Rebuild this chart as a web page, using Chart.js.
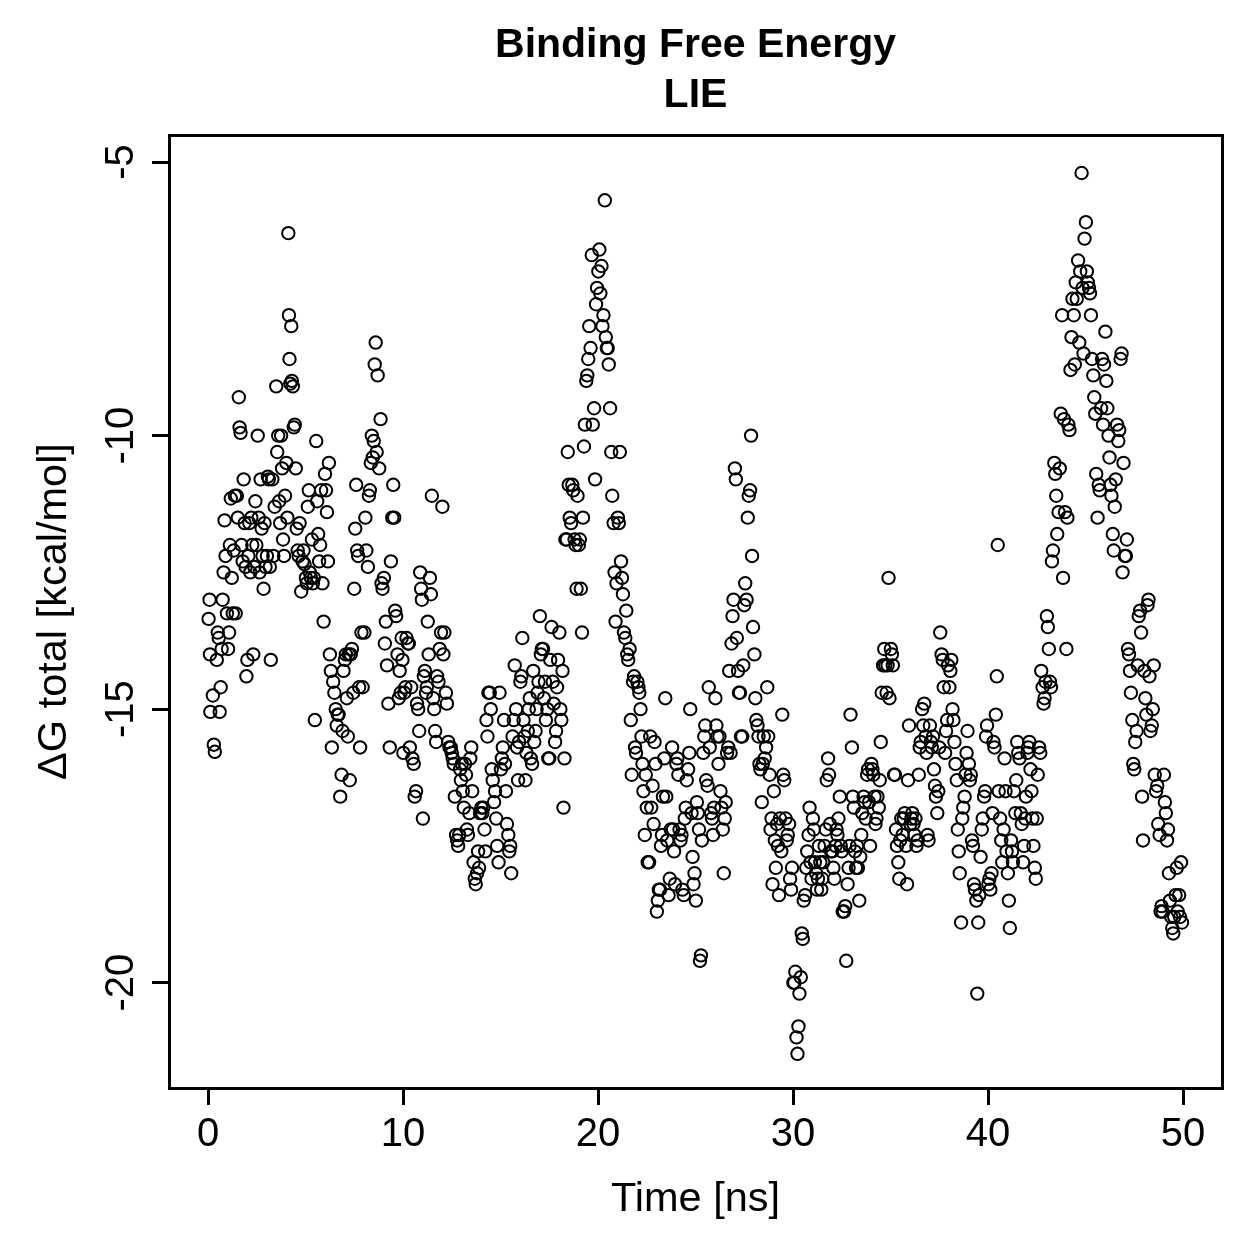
<!DOCTYPE html>
<html><head><meta charset="utf-8">
<script src="https://cdn.jsdelivr.net/npm/chart.js@4"></script>
<style>html,body{margin:0;padding:0;background:#fff}#wrap{width:1259px;height:1259px}</style>
</head><body><div id="wrap"><canvas id="c" width="1259" height="1259"></canvas></div>
<script>
const titleLines = ['Binding Free Energy', 'LIE'];
const xTitle = 'Time [ns]';
const yTitle = 'ΔG total [kcal/mol]';
const xTicks = [0, 10, 20, 30, 40, 50];
const yTicks = [-20, -15, -10, -5];

const seg0to10 = [
[0.03,-13.35],[0.08,-13.0],[0.1,-14.0],[0.12,-15.05],[0.25,-14.75],[0.3,-15.65],[0.35,-15.78],[0.45,-14.1],[0.5,-13.6],[0.55,-13.7],[0.6,-15.05],[0.65,-14.6],[0.7,-13.9],[0.75,-13.0],[0.8,-12.5],[0.85,-11.55],[0.9,-12.2],[0.97,-13.25],
[1.03,-13.9],[1.08,-13.6],[1.12,-12.0],[1.17,-11.15],[1.22,-12.6],[1.27,-13.25],[1.32,-12.1],[1.38,-11.1],[1.42,-13.25],[1.48,-11.1],[1.53,-11.5],[1.58,-9.3],[1.62,-9.85],[1.67,-9.95],[1.72,-12.0],[1.78,-12.3],[1.83,-10.8],[1.88,-11.6],[1.93,-12.4],[1.97,-14.4],
[2.02,-14.1],[2.07,-12.2],[2.12,-11.6],[2.17,-12.5],[2.22,-11.5],[2.27,-12.0],[2.32,-14.0],[2.38,-12.4],[2.43,-11.2],[2.48,-12.0],[2.55,-10.0],[2.6,-11.5],[2.65,-12.5],[2.7,-10.8],[2.75,-11.7],[2.8,-12.2],[2.85,-12.8],[2.9,-11.6],[2.95,-12.4],
[3.02,-12.2],[3.07,-10.75],[3.12,-10.8],[3.17,-12.4],[3.22,-14.1],[3.3,-10.8],[3.35,-12.2],[3.42,-11.3],[3.5,-9.1],[3.55,-10.3],[3.6,-10.0],[3.65,-11.2],[3.7,-11.6],[3.75,-10.0],[3.8,-10.6],[3.85,-11.9],[3.9,-12.2],[3.95,-11.1],
[4.02,-10.5],[4.07,-11.5],[4.12,-6.3],[4.15,-7.8],[4.18,-8.6],[4.22,-9.05],[4.27,-8.0],[4.3,-9.0],[4.35,-9.1],[4.4,-9.85],[4.45,-9.8],[4.5,-10.6],[4.55,-11.7],[4.6,-12.1],[4.65,-12.2],[4.7,-11.6],[4.78,-12.85],[4.85,-12.3],[4.9,-12.1],[4.95,-12.35],
[5.02,-12.6],[5.07,-12.7],[5.12,-11.3],[5.17,-11.0],[5.22,-12.5],[5.28,-12.6],[5.33,-11.9],[5.38,-12.7],[5.43,-12.6],[5.48,-15.2],[5.55,-10.1],[5.6,-11.2],[5.65,-11.8],[5.7,-12.3],[5.75,-12.0],[5.8,-11.0],[5.87,-12.7],[5.93,-13.4],
[6.0,-10.7],[6.05,-11.0],[6.1,-11.4],[6.15,-12.3],[6.2,-10.5],[6.25,-14.0],[6.3,-14.3],[6.35,-15.7],[6.42,-14.5],[6.48,-14.7],[6.55,-15.0],[6.6,-15.3],[6.65,-15.1],[6.7,-15.1],[6.78,-16.6],[6.85,-16.2],[6.9,-15.4],[6.95,-14.3],
[7.02,-14.1],[7.07,-14.0],[7.12,-14.8],[7.17,-15.5],[7.22,-14.0],[7.27,-16.3],[7.32,-14.0],[7.38,-13.9],[7.45,-14.7],[7.5,-12.8],[7.55,-11.7],[7.6,-10.9],[7.65,-12.1],[7.7,-12.2],[7.75,-14.6],[7.8,-15.7],[7.87,-13.6],[7.93,-14.6],
[8.02,-13.6],[8.07,-11.5],[8.12,-12.1],[8.2,-12.4],[8.25,-11.1],[8.3,-11.0],[8.35,-10.5],[8.4,-10.0],[8.45,-10.4],[8.5,-10.1],[8.55,-8.7],[8.6,-8.3],[8.65,-10.3],[8.7,-8.9],[8.78,-10.6],[8.85,-9.7],[8.9,-12.7],[8.95,-12.8],
[9.02,-12.6],[9.07,-13.8],[9.12,-13.4],[9.18,-14.2],[9.25,-14.9],[9.32,-15.7],[9.38,-12.3],[9.45,-11.5],[9.5,-10.9],[9.55,-11.5],[9.6,-13.2],[9.65,-13.3],[9.72,-14.0],[9.78,-14.8],[9.83,-14.3],[9.88,-14.7],[9.93,-13.7],[9.97,-14.1]
];
const seg10to20 = [
[10.02,-15.8],[10.07,-14.7],[10.12,-14.6],[10.18,-13.7],[10.25,-13.8],[10.3,-13.8],[10.35,-15.7],[10.42,-14.6],[10.48,-15.9],[10.55,-16.0],[10.6,-16.6],[10.67,-16.5],[10.72,-14.9],[10.78,-15.0],[10.83,-15.4],[10.88,-12.5],[10.93,-12.8],[10.97,-13.0],
[11.02,-17.0],[11.07,-14.4],[11.12,-14.3],[11.18,-14.7],[11.22,-14.6],[11.27,-13.4],[11.32,-14.0],[11.38,-12.6],[11.43,-12.9],[11.48,-11.1],[11.55,-14.8],[11.6,-15.0],[11.65,-15.4],[11.7,-15.6],[11.75,-14.4],[11.82,-14.5],[11.88,-13.9],[11.95,-13.6],
[12.02,-11.3],[12.07,-14.0],[12.12,-13.6],[12.2,-14.7],[12.25,-14.9],[12.32,-15.6],[12.38,-15.7],[12.45,-15.7],[12.5,-15.8],[12.55,-15.9],[12.6,-16.0],[12.66,-16.6],[12.72,-17.3],[12.78,-17.4],[12.83,-17.5],[12.88,-17.3],[12.93,-16.1],[12.97,-16.3],
[13.02,-16.0],[13.07,-16.5],[13.12,-16.8],[13.18,-16.0],[13.23,-16.2],[13.28,-17.2],[13.33,-17.3],[13.4,-16.9],[13.45,-15.9],[13.5,-15.7],[13.55,-16.5],[13.62,-17.8],[13.68,-18.1],[13.73,-18.2],[13.8,-18.0],[13.85,-17.6],[13.9,-17.9],[13.95,-16.9],
[14.02,-16.8],[14.07,-16.9],[14.12,-16.8],[14.18,-17.2],[14.22,-17.6],[14.28,-15.2],[14.33,-15.5],[14.38,-14.7],[14.45,-14.7],[14.5,-15.0],[14.55,-16.1],[14.6,-16.3],[14.67,-16.7],[14.72,-16.5],[14.78,-17.0],[14.83,-17.5],[14.9,-17.8],[14.95,-14.7],
[15.02,-16.1],[15.07,-15.9],[15.12,-15.7],[15.18,-15.2],[15.23,-16.0],[15.28,-16.5],[15.33,-17.1],[15.4,-17.3],[15.45,-17.6],[15.5,-17.5],[15.55,-18.0],[15.62,-15.5],[15.68,-15.2],[15.73,-14.2],[15.8,-15.0],[15.85,-15.7],[15.9,-16.3],[15.95,-15.6],
[16.02,-14.5],[16.07,-14.4],[16.12,-13.7],[16.18,-15.2],[16.23,-15.5],[16.28,-16.3],[16.33,-15.8],[16.4,-15.4],[16.45,-15.0],[16.5,-14.8],[16.55,-15.9],[16.62,-16.0],[16.68,-14.3],[16.73,-15.6],[16.8,-15.4],[16.85,-15.0],[16.9,-14.7],[16.95,-14.5],
[17.02,-13.3],[17.07,-14.0],[17.12,-13.9],[17.18,-13.9],[17.23,-14.8],[17.28,-14.5],[17.33,-15.2],[17.4,-15.0],[17.45,-15.9],[17.5,-15.9],[17.55,-14.1],[17.62,-13.5],[17.68,-14.5],[17.73,-14.9],[17.8,-15.6],[17.85,-15.4],[17.9,-14.6],[17.95,-14.1],
[18.02,-13.6],[18.07,-15.0],[18.12,-15.2],[18.18,-14.3],[18.23,-16.8],[18.28,-15.9],[18.33,-11.9],[18.4,-11.9],[18.45,-10.3],[18.5,-10.9],[18.55,-11.5],[18.62,-11.6],[18.68,-10.9],[18.73,-11.0],[18.8,-11.9],[18.85,-12.0],[18.9,-12.8],[18.95,-11.1],
[19.02,-12.0],[19.07,-11.9],[19.12,-12.8],[19.18,-13.6],[19.23,-11.5],[19.28,-10.2],[19.33,-9.8],[19.4,-9.0],[19.45,-8.9],[19.5,-8.6],[19.55,-8.0],[19.62,-8.4],[19.68,-6.7],[19.73,-9.8],[19.8,-9.5],[19.85,-10.8],[19.9,-7.6],[19.95,-7.3]
];
const seg20to30 = [
[20.02,-7.0],[20.07,-6.6],[20.12,-7.4],[20.18,-6.9],[20.23,-8.0],[20.28,-7.8],[20.35,-5.7],[20.4,-8.2],[20.45,-8.4],[20.5,-8.4],[20.55,-8.7],[20.62,-9.5],[20.68,-10.3],[20.73,-11.1],[20.8,-11.6],[20.85,-12.5],[20.9,-13.4],[20.95,-12.7],
[21.02,-11.5],[21.07,-11.6],[21.12,-10.3],[21.18,-12.3],[21.23,-12.6],[21.28,-12.9],[21.33,-13.6],[21.4,-13.7],[21.45,-13.2],[21.5,-14.0],[21.55,-14.1],[21.62,-13.9],[21.68,-15.2],[21.73,-16.2],[21.8,-14.5],[21.85,-14.4],[21.9,-15.7],[21.95,-15.8],
[22.02,-14.5],[22.07,-14.6],[22.12,-14.7],[22.18,-15.0],[22.23,-15.5],[22.28,-16.0],[22.33,-16.5],[22.4,-17.3],[22.45,-16.2],[22.5,-16.8],[22.55,-17.8],[22.62,-17.8],[22.68,-15.5],[22.73,-16.8],[22.8,-16.4],[22.85,-17.1],[22.9,-15.6],[22.95,-16.0],
[23.02,-18.7],[23.07,-18.5],[23.12,-18.3],[23.18,-18.3],[23.23,-17.5],[23.28,-17.3],[23.33,-16.6],[23.4,-15.9],[23.45,-14.8],[23.5,-16.6],[23.55,-17.4],[23.62,-18.4],[23.68,-18.1],[23.73,-17.2],[23.8,-15.7],[23.85,-17.2],[23.9,-17.6],[23.95,-18.2],
[24.02,-16.0],[24.07,-15.9],[24.12,-16.2],[24.18,-17.2],[24.23,-17.4],[24.28,-17.3],[24.33,-18.3],[24.4,-18.4],[24.45,-17.0],[24.5,-16.8],[24.55,-16.3],[24.62,-16.1],[24.68,-15.8],[24.73,-15.0],[24.8,-16.9],[24.85,-17.7],[24.9,-18.2],[24.95,-18.0],
[25.02,-18.5],[25.07,-16.7],[25.12,-16.9],[25.18,-17.2],[25.23,-19.6],[25.28,-19.5],[25.33,-17.4],[25.4,-15.8],[25.45,-15.5],[25.5,-15.3],[25.55,-16.3],[25.62,-16.4],[25.68,-14.6],[25.73,-15.7],[25.8,-16.9],[25.85,-17.0],[25.9,-17.3],[25.95,-16.8],
[26.02,-14.8],[26.07,-15.3],[26.12,-15.5],[26.18,-16.0],[26.23,-15.5],[26.28,-16.5],[26.33,-16.8],[26.4,-17.2],[26.45,-18.0],[26.5,-17.0],[26.55,-16.7],[26.62,-15.8],[26.68,-15.7],[26.73,-14.3],[26.8,-15.8],[26.85,-13.8],[26.9,-13.3],[26.95,-13.0],
[27.02,-10.6],[27.07,-10.8],[27.12,-13.7],[27.18,-14.3],[27.23,-14.7],[27.28,-14.7],[27.33,-15.5],[27.4,-15.5],[27.45,-14.2],[27.5,-13.1],[27.55,-12.7],[27.62,-13.0],[27.68,-11.5],[27.73,-11.1],[27.8,-11.0],[27.85,-10.0],[27.9,-12.2],[27.95,-13.5],
[28.02,-14.0],[28.07,-14.8],[28.12,-15.2],[28.18,-15.3],[28.23,-15.5],[28.28,-16.0],[28.33,-16.1],[28.4,-16.7],[28.45,-16.0],[28.5,-15.5],[28.55,-15.9],[28.62,-15.7],[28.68,-14.6],[28.73,-15.5],[28.8,-16.2],[28.85,-17.2],[28.9,-17.0],[28.95,-18.2],
[29.02,-16.5],[29.07,-17.4],[29.12,-17.9],[29.18,-17.1],[29.23,-17.5],[29.28,-18.4],[29.33,-17.0],[29.4,-17.6],[29.45,-15.1],[29.5,-16.2],[29.55,-16.3],[29.62,-17.0],[29.68,-17.4],[29.73,-17.3],[29.8,-17.1],[29.85,-18.1],[29.9,-18.3],[29.95,-17.9]
];
const seg30to40 = [
[30.02,-20.0],[30.07,-20.0],[30.12,-19.8],[30.18,-21.0],[30.23,-21.3],[30.28,-20.8],[30.33,-20.2],[30.4,-19.9],[30.45,-19.1],[30.5,-19.2],[30.55,-18.5],[30.62,-18.4],[30.68,-17.9],[30.73,-17.6],[30.8,-17.3],[30.85,-16.8],[30.9,-17.8],[30.95,-18.1],
[31.02,-17.0],[31.07,-17.2],[31.12,-17.8],[31.18,-18.0],[31.23,-18.3],[31.28,-18.1],[31.33,-17.5],[31.4,-17.8],[31.45,-18.3],[31.5,-18.1],[31.55,-17.8],[31.62,-17.5],[31.68,-17.2],[31.73,-16.3],[31.8,-15.9],[31.85,-16.2],[31.9,-17.1],[31.95,-17.6],
[32.02,-17.6],[32.07,-17.9],[32.12,-18.1],[32.18,-17.5],[32.23,-17.2],[32.28,-17.3],[32.33,-17.0],[32.4,-16.6],[32.45,-17.5],[32.5,-17.6],[32.55,-18.7],[32.62,-18.7],[32.68,-18.6],[32.73,-19.6],[32.8,-18.2],[32.85,-17.9],[32.9,-17.5],[32.95,-15.1],
[33.02,-15.7],[33.07,-16.6],[33.12,-16.8],[33.18,-17.6],[33.23,-17.9],[33.28,-17.5],[33.33,-17.9],[33.4,-18.5],[33.45,-17.7],[33.5,-17.3],[33.55,-16.9],[33.62,-16.6],[33.68,-16.7],[33.73,-17.0],[33.8,-16.2],[33.85,-16.1],[33.9,-16.7],[33.95,-17.5],
[34.02,-16.0],[34.07,-16.1],[34.12,-16.2],[34.18,-16.6],[34.23,-17.1],[34.28,-17.0],[34.33,-16.6],[34.4,-16.8],[34.45,-16.3],[34.5,-15.6],[34.55,-14.7],[34.62,-14.2],[34.68,-13.9],[34.73,-14.2],[34.8,-14.7],[34.85,-14.2],[34.9,-12.6],[34.95,-14.8],
[35.02,-13.9],[35.07,-14.0],[35.12,-14.2],[35.18,-16.2],[35.23,-16.2],[35.28,-17.2],[35.33,-17.5],[35.4,-17.8],[35.45,-18.1],[35.5,-17.4],[35.55,-17.0],[35.62,-17.3],[35.68,-17.0],[35.73,-16.9],[35.8,-17.5],[35.85,-18.2],[35.9,-16.3],[35.95,-15.3],
[36.02,-17.1],[36.07,-17.0],[36.12,-16.9],[36.18,-17.1],[36.23,-17.3],[36.28,-17.0],[36.33,-17.5],[36.4,-17.4],[36.45,-16.2],[36.5,-15.7],[36.55,-15.6],[36.62,-15.0],[36.68,-15.3],[36.73,-14.9],[36.8,-15.5],[36.85,-15.8],[36.9,-17.3],[36.95,-17.4],
[37.02,-15.3],[37.07,-15.6],[37.12,-15.7],[37.18,-15.5],[37.23,-16.1],[37.28,-16.4],[37.33,-16.6],[37.4,-16.9],[37.45,-16.5],[37.5,-15.7],[37.55,-13.6],[37.62,-14.0],[37.68,-14.1],[37.73,-14.6],[37.8,-15.8],[37.85,-15.4],[37.9,-15.2],[37.95,-14.2],
[38.02,-14.6],[38.07,-14.3],[38.12,-14.1],[38.18,-15.0],[38.23,-15.2],[38.28,-15.6],[38.33,-16.0],[38.4,-16.3],[38.45,-17.2],[38.5,-17.6],[38.55,-18.0],[38.62,-18.9],[38.68,-17.0],[38.73,-16.8],[38.8,-16.6],[38.85,-16.2],[38.9,-15.8],[38.95,-15.4],
[39.02,-16.0],[39.07,-16.3],[39.12,-16.2],[39.18,-17.4],[39.23,-17.5],[39.28,-18.2],[39.33,-18.3],[39.4,-18.5],[39.45,-20.2],[39.5,-18.9],[39.55,-18.4],[39.62,-17.7],[39.68,-17.2],[39.73,-17.0],[39.8,-16.6],[39.85,-16.5],[39.9,-15.5],[39.95,-15.3]
];
const seg40to50 = [
[40.02,-18.2],[40.07,-18.1],[40.12,-18.3],[40.18,-18.0],[40.23,-16.9],[40.28,-15.6],[40.33,-15.7],[40.4,-15.1],[40.45,-14.4],[40.5,-12.0],[40.55,-16.5],[40.62,-17.0],[40.68,-17.4],[40.73,-17.8],[40.8,-17.2],[40.85,-15.9],[40.9,-16.5],[40.95,-17.6],
[41.02,-18.0],[41.07,-18.5],[41.12,-19.0],[41.18,-17.4],[41.23,-17.6],[41.28,-17.8],[41.33,-16.5],[41.4,-16.9],[41.45,-16.3],[41.5,-15.6],[41.55,-15.8],[41.62,-15.9],[41.68,-16.9],[41.73,-17.1],[41.8,-17.8],[41.85,-17.5],[41.9,-17.0],[41.95,-16.6],
[42.02,-15.8],[42.07,-15.7],[42.12,-15.6],[42.18,-16.1],[42.23,-16.5],[42.28,-17.0],[42.33,-17.5],[42.4,-17.9],[42.45,-18.1],[42.5,-17.0],[42.55,-16.2],[42.62,-15.7],[42.68,-15.8],[42.73,-14.3],[42.8,-14.6],[42.85,-14.9],[42.9,-14.8],[42.95,-14.5],
[43.02,-13.3],[43.07,-13.5],[43.12,-13.9],[43.18,-14.5],[43.23,-14.6],[43.28,-12.3],[43.33,-12.1],[43.4,-10.5],[43.45,-10.7],[43.5,-11.1],[43.55,-11.8],[43.62,-11.4],[43.68,-10.6],[43.73,-9.6],[43.8,-7.8],[43.85,-12.6],[43.9,-9.7],[43.95,-11.4],
[44.02,-13.9],[44.07,-11.5],[44.12,-9.8],[44.18,-9.9],[44.23,-8.8],[44.28,-8.2],[44.33,-7.5],[44.4,-7.8],[44.45,-8.7],[44.5,-7.2],[44.55,-7.5],[44.62,-6.8],[44.68,-8.3],[44.73,-7.0],[44.8,-5.2],[44.85,-7.3],[44.9,-8.5],[44.95,-6.4],
[45.02,-6.1],[45.07,-7.0],[45.12,-7.2],[45.18,-7.3],[45.23,-7.4],[45.28,-7.8],[45.33,-8.6],[45.4,-8.9],[45.45,-9.3],[45.5,-9.6],[45.55,-10.7],[45.62,-11.5],[45.68,-10.9],[45.73,-11.0],[45.8,-9.5],[45.85,-8.6],[45.9,-9.8],[45.95,-8.7],
[46.02,-8.1],[46.07,-9.0],[46.12,-9.5],[46.18,-10.0],[46.23,-10.4],[46.28,-10.9],[46.33,-11.1],[46.4,-11.8],[46.45,-12.1],[46.5,-11.3],[46.55,-10.8],[46.62,-9.8],[46.68,-10.1],[46.73,-9.9],[46.8,-8.6],[46.85,-8.5],[46.9,-12.5],[46.95,-10.5],
[47.02,-12.2],[47.07,-12.2],[47.12,-11.9],[47.18,-13.9],[47.23,-14.0],[47.28,-14.3],[47.33,-14.7],[47.4,-15.2],[47.45,-16.0],[47.5,-16.1],[47.55,-15.6],[47.62,-15.4],[47.68,-14.2],[47.73,-13.3],[47.8,-13.2],[47.85,-13.6],[47.9,-16.6],[47.95,-17.4],
[48.02,-14.3],[48.07,-14.8],[48.12,-15.1],[48.18,-13.1],[48.23,-13.0],[48.28,-14.4],[48.33,-15.4],[48.4,-15.3],[48.45,-15.0],[48.5,-14.2],[48.55,-16.2],[48.62,-16.5],[48.68,-16.4],[48.73,-17.1],[48.8,-17.3],[48.85,-18.7],[48.9,-18.6],[48.95,-18.7],
[49.02,-16.2],[49.07,-16.7],[49.12,-16.9],[49.18,-17.4],[49.23,-17.2],[49.28,-18.0],[49.33,-18.5],[49.4,-18.8],[49.45,-19.0],[49.5,-19.1],[49.55,-18.8],[49.62,-18.4],[49.68,-17.9],[49.73,-18.7],[49.8,-18.4],[49.85,-18.8],[49.9,-17.8],[49.95,-18.9]
];

const points = [].concat(seg0to10, seg10to20, seg20to30, seg30to40, seg40to50).map(p => ({x: p[0], y: p[1]}));

const FONT = "'Liberation Sans', Arial, Helvetica, sans-serif";

const framePlugin = {
  id: 'frame',
  afterDraw(chart) {
    const {ctx, chartArea: a} = chart;
    ctx.save();
    ctx.strokeStyle = '#000';
    ctx.lineWidth = 3;
    ctx.strokeRect(Math.round(a.left) + 0.5, Math.round(a.top) + 0.5, Math.round(a.right - a.left), Math.round(a.bottom - a.top));
    ctx.fillStyle = '#000';
    ctx.font = 'bold 41px ' + FONT;
    ctx.textAlign = 'center';
    ctx.textBaseline = 'middle';
    const cx = (a.left + a.right) / 2;
    ctx.fillText(titleLines[0], cx, 46);
    ctx.fillText(titleLines[1], cx, 96);
    ctx.restore();
  }
};

new Chart(document.getElementById('c'), {
  type: 'scatter',
  data: {
    datasets: [{
      data: points,
      showLine: false
    }]
  },
  options: {
    responsive: false,
    animation: false,
    devicePixelRatio: 1,
    events: [],
    elements: {
      point: {pointStyle: 'circle', radius: 6.2, hoverRadius: 6.2, borderWidth: 2, hoverBorderWidth: 2, borderColor: '#000', backgroundColor: 'rgba(0,0,0,0)'}
    },
    layout: {padding: {top: 135, right: 37, left: 0, bottom: 0}},
    plugins: {legend: {display: false}, tooltip: {enabled: false}, title: {display: false}},
    scales: {
      x: {
        type: 'linear', min: -2, max: 52,
        afterBuildTicks: s => { s.ticks = xTicks.map(v => ({value: v})); },
        afterFit: s => { s.height = 171; },
        grid: {display: true, drawOnChartArea: false, drawTicks: true, tickLength: 17, tickWidth: 3, tickColor: '#000'},
        border: {display: false},
        ticks: {color: '#000', font: {family: FONT, size: 40}, padding: 6, maxRotation: 0, autoSkip: false},
        title: {display: true, text: xTitle, color: '#000', font: {family: FONT, size: 41.5}, padding: {top: 0, bottom: 35}}
      },
      y: {
        type: 'linear', min: -21.925, max: -4.506,
        afterBuildTicks: s => { s.ticks = yTicks.map(v => ({value: v})); },
        afterFit: s => { s.width = 169; },
        grid: {display: true, drawOnChartArea: false, drawTicks: true, tickLength: 17, tickWidth: 3, tickColor: '#000'},
        border: {display: false},
        ticks: {color: '#000', font: {family: FONT, size: 40}, padding: 1, minRotation: 90, maxRotation: 90, crossAlign: 'center', autoSkip: false},
        title: {display: true, text: yTitle, color: '#000', font: {family: FONT, size: 41.5}, padding: {top: 30, bottom: 0}}
      }
    }
  },
  plugins: [framePlugin]
});
</script>
</body></html>
